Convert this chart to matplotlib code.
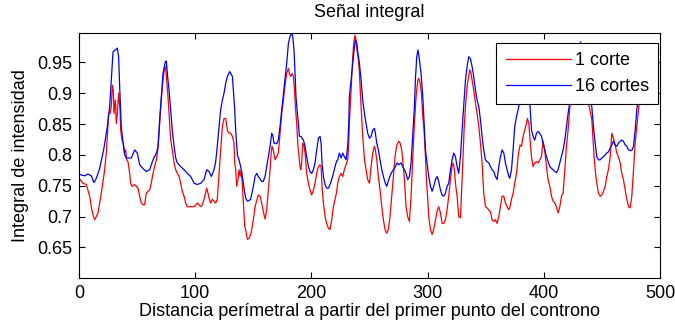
import matplotlib
matplotlib.use("Agg")
import matplotlib.pyplot as plt
from matplotlib.ticker import FuncFormatter

# Señal integral a lo largo del contorno
dist_1_corte = [
    1, 3.4, 6.3, 9.2, 10.6, 12.0, 13.5, 14.9, 16.4, 17.8, 19.2, 20.7, 22.1, 23.5, 24.4,
    25.5, 26.7, 27.8, 28.7, 29.5, 30.1, 31.3, 32.1, 33.0, 34.1, 35.3, 35.9, 37.0, 38.2,
    39.3, 40.2, 41.0, 42.2, 43.6, 44.5, 45.6, 47.9, 49.3, 50.8, 52.2, 53.6, 55.1, 56.5,
    57.9, 59.4, 60.8, 62.2, 63.7, 65.1, 66.6, 68.0, 69.4, 70.8, 72.3, 73.2, 74.6, 75.4,
    76.6, 77.5, 78.9, 80.3, 81.8, 83.2, 84.6, 86.1, 87.5, 88.9, 90.4, 91.8, 93.2, 96.1,
    99.0, 101.8, 103.3, 104.7, 106.1, 107.6, 109.9, 111.0, 111.9, 113.3, 114.7, 116.2,
    117.6, 119.0, 120.5, 121.9, 123.4, 124.8, 126.2, 127.7, 129.1, 130.5, 132.0, 133.4,
    134.0, 134.8, 135.7, 136.8, 137.7, 138.6, 139.7, 140.6, 141.4, 142.6, 143.4, 144.9,
    146.3, 147.7, 148.6, 150.0, 151.5, 152.9, 154.3, 155.8, 157.2, 158.6, 160.1, 161.5,
    162.9, 164.4, 165.2, 166.1, 167.2, 168.7, 170.1, 171.5, 173.0, 174.4, 175.9, 177.3,
    178.7, 180.2, 181.0, 182.2, 183.3, 184.5, 185.3, 186.2, 187.3, 188.2, 189.0, 190.2,
    190.8, 191.6, 192.5, 193.6, 194.5, 195.9, 197.4, 198.8, 200.2, 201.7, 203.1, 204.5,
    206.0, 207.4, 208.3, 209.1, 210.3, 211.7, 213.1, 214.6, 216.0, 217.4, 218.9, 220.3,
    221.7, 222.6, 224.0, 225.5, 226.9, 228.3, 229.8, 231.2, 232.1, 232.6, 234.1, 235.5,
    236.4, 237.5, 238.4, 239.2, 240.4, 241.3, 242.1, 243.3, 244.1, 244.7, 245.6, 247.0,
    248.4, 249.9, 251.3, 252.7, 254.2, 255.0, 256.2, 257.6, 259.0, 260.5, 261.9, 263.3,
    264.8, 266.2, 267.6, 269.1, 270.5, 271.9, 273.4, 275.1, 276.2, 277.7, 278.5, 280.0,
    281.4, 282.8, 284.3, 285.7, 287.1, 288.6, 290.0, 291.5, 292.3, 293.5, 294.6, 295.8,
    296.9, 298.1, 298.9, 300.1, 300.9, 302.4, 303.8, 305.2, 306.7, 308.1, 309.5, 311.0,
    312.4, 313.8, 315.3, 316.7, 318.1, 319.6, 321.0, 321.9, 323.0, 323.9, 325.3, 326.7,
    328.2, 329.0, 330.2, 331.3, 332.5, 333.9, 335.3, 336.2, 337.3, 338.2, 339.6, 341.1,
    342.5, 344.0, 345.4, 346.8, 348.2, 349.7, 351.1, 352.6, 354.0, 355.4, 356.9, 358.3,
    359.7, 361.2, 362.6, 364.0, 365.5, 366.9, 368.3, 369.8, 370.6, 372.1, 373.5, 374.9,
    376.4, 377.8, 378.7, 379.5, 380.7, 382.1, 383.5, 385.0, 385.8, 387.0, 388.1, 389.3,
    390.7, 392.1, 393.6, 395.0, 396.4, 397.9, 399.3, 400.7, 402.2, 403.6, 405.1, 406.5,
    407.9, 409.4, 410.8, 412.2, 413.7, 415.1, 416.5, 418.0, 419.4, 420.8, 422.3, 426.0,
    430.0, 434.0, 438.0, 439.8, 441.2, 442.1, 443.2, 444.1, 445.5, 446.9, 448.4, 449.8,
    451.2, 452.7, 454.1, 455.5, 457.0, 458.4, 459.8, 461.3, 462.7, 464.1, 465.6, 467.0,
    468.4, 469.9, 471.3, 472.8, 474.2, 475.6, 477.1, 478.5, 479.9, 481.4, 482.8, 484.0,
]
senal_1_corte = [
    0.760, 0.754, 0.752, 0.733, 0.716, 0.703, 0.695, 0.700, 0.706, 0.722, 0.738, 0.757,
    0.776, 0.803, 0.830, 0.867, 0.867, 0.878, 0.913, 0.905, 0.867, 0.889, 0.851, 0.867,
    0.900, 0.873, 0.840, 0.824, 0.819, 0.803, 0.808, 0.792, 0.789, 0.770, 0.754, 0.749,
    0.752, 0.749, 0.746, 0.733, 0.722, 0.719, 0.719, 0.738, 0.741, 0.743, 0.754, 0.770,
    0.781, 0.792, 0.811, 0.851, 0.889, 0.921, 0.935, 0.943, 0.922, 0.894, 0.867, 0.824,
    0.808, 0.787, 0.776, 0.770, 0.765, 0.754, 0.741, 0.733, 0.722, 0.716, 0.716, 0.716,
    0.722, 0.719, 0.716, 0.719, 0.728, 0.746, 0.738, 0.730, 0.722, 0.728, 0.725, 0.722,
    0.728, 0.770, 0.808, 0.846, 0.859, 0.859, 0.840, 0.835, 0.835, 0.830, 0.819, 0.787,
    0.776, 0.749, 0.760, 0.776, 0.765, 0.776, 0.749, 0.722, 0.684, 0.679, 0.663, 0.665,
    0.671, 0.679, 0.695, 0.716, 0.726, 0.735, 0.733, 0.722, 0.708, 0.696, 0.711, 0.743,
    0.776, 0.800, 0.814, 0.808, 0.792, 0.797, 0.803, 0.835, 0.867, 0.889, 0.913, 0.932,
    0.940, 0.932, 0.927, 0.932, 0.927, 0.908, 0.878, 0.851, 0.819, 0.803, 0.781, 0.776,
    0.787, 0.819, 0.814, 0.803, 0.770, 0.754, 0.743, 0.735, 0.743, 0.754, 0.770, 0.781,
    0.784, 0.781, 0.749, 0.722, 0.700, 0.689, 0.681, 0.679, 0.695, 0.716, 0.728, 0.740,
    0.754, 0.765, 0.770, 0.765, 0.776, 0.784, 0.792, 0.819, 0.851, 0.905, 0.959, 0.981,
    0.994, 0.986, 0.970, 0.954, 0.932, 0.900, 0.857, 0.830, 0.814, 0.792, 0.776, 0.760,
    0.754, 0.781, 0.803, 0.814, 0.808, 0.792, 0.765, 0.743, 0.716, 0.695, 0.679, 0.673,
    0.679, 0.700, 0.733, 0.765, 0.797, 0.816, 0.822, 0.819, 0.808, 0.792, 0.760, 0.716,
    0.700, 0.692, 0.733, 0.792, 0.851, 0.894, 0.921, 0.924, 0.916, 0.900, 0.862, 0.840,
    0.797, 0.760, 0.727, 0.700, 0.679, 0.671, 0.679, 0.695, 0.709, 0.716, 0.706, 0.689,
    0.689, 0.695, 0.711, 0.733, 0.760, 0.781, 0.787, 0.776, 0.754, 0.733, 0.700, 0.698,
    0.733, 0.787, 0.840, 0.878, 0.911, 0.927, 0.938, 0.932, 0.921, 0.905, 0.884, 0.867,
    0.846, 0.819, 0.787, 0.738, 0.716, 0.714, 0.711, 0.708, 0.695, 0.692, 0.695, 0.689,
    0.700, 0.716, 0.733, 0.733, 0.722, 0.716, 0.711, 0.714, 0.728, 0.738, 0.754, 0.770,
    0.797, 0.808, 0.816, 0.814, 0.830, 0.840, 0.851, 0.859, 0.851, 0.824, 0.797, 0.781,
    0.787, 0.789, 0.787, 0.792, 0.797, 0.822, 0.808, 0.781, 0.760, 0.749, 0.733, 0.725,
    0.722, 0.716, 0.706, 0.716, 0.733, 0.738, 0.776, 0.814, 0.840, 0.878, 0.910, 0.930,
    0.910, 0.886, 0.871, 0.857, 0.830, 0.797, 0.776, 0.754, 0.738, 0.733, 0.735, 0.741,
    0.749, 0.765, 0.776, 0.797, 0.835, 0.827, 0.816, 0.803, 0.797, 0.787, 0.770, 0.760,
    0.743, 0.728, 0.716, 0.714, 0.733, 0.776, 0.819, 0.846, 0.873, 0.894, 0.905,
]

dist_16_cortes = [
    1, 4.9, 7.7, 10.6, 12.9, 14.9, 17.8, 21.5, 24.4, 26.4, 27.8, 29.3, 31.3, 33.0, 34.1,
    35.0, 36.4, 37.9, 39.3, 40.7, 45.0, 47.9, 50.2, 52.2, 55.0, 57.9, 60.8, 63.7, 66.6,
    68.0, 69.4, 70.8, 72.3, 74.3, 75.2, 76.0, 77.5, 78.9, 80.3, 81.8, 83.2, 84.6, 87.5,
    90.4, 93.2, 96.1, 99.0, 101.8, 104.7, 107.6, 109.9, 111.9, 113.9, 116.2, 117.6,
    119.0, 120.5, 121.9, 123.4, 124.8, 126.2, 127.7, 129.7, 132.0, 132.8, 134.0, 134.8,
    136.3, 137.7, 139.1, 140.6, 142.0, 143.4, 144.9, 146.3, 147.7, 150.0, 151.5, 152.9,
    154.3, 157.2, 158.6, 160.1, 161.5, 162.9, 164.4, 165.8, 166.7, 167.8, 170.1, 171.5,
    173.0, 174.4, 175.9, 177.3, 178.7, 180.2, 181.6, 183.0, 183.9, 185.0, 185.9, 186.7,
    187.9, 188.8, 189.6, 190.8, 193.1, 194.5, 195.9, 197.4, 198.8, 200.2, 201.7, 203.1,
    204.5, 206.0, 207.4, 208.3, 209.1, 210.3, 211.7, 213.1, 214.6, 216.0, 217.4, 218.9,
    220.3, 221.7, 222.6, 224.0, 225.5, 226.9, 228.3, 229.8, 231.2, 232.1, 232.6, 234.1,
    235.5, 237.0, 237.8, 239.0, 239.8, 241.3, 242.7, 244.1, 245.6, 247.0, 248.4, 249.9,
    251.3, 252.7, 254.2, 255.0, 256.2, 257.6, 259.0, 260.5, 261.9, 263.6, 264.8, 266.5,
    268.5, 270.5, 272.2, 273.7, 275.1, 277.1, 278.5, 280.0, 281.4, 282.8, 284.3, 285.7,
    287.1, 288.6, 289.4, 290.6, 291.7, 292.9, 294.3, 295.8, 296.9, 298.1, 299.5, 300.9,
    302.4, 303.8, 305.2, 306.7, 308.1, 309.5, 311.0, 312.4, 313.8, 315.3, 316.7, 318.1,
    319.6, 321.0, 322.4, 323.9, 325.3, 326.7, 328.2, 329.6, 331.0, 332.5, 333.9, 335.3,
    336.8, 338.2, 339.6, 341.1, 342.5, 344.0, 345.4, 346.8, 348.2, 349.7, 351.1, 352.6,
    354.0, 355.4, 356.9, 358.3, 359.7, 361.2, 362.6, 364.0, 365.5, 366.9, 368.3, 369.8,
    370.6, 372.1, 373.5, 374.9, 376.4, 377.8, 379.2, 381.5, 383.5, 386.0, 387.8, 389.3,
    390.7, 392.1, 393.6, 395.0, 396.4, 397.9, 399.3, 400.7, 402.2, 403.6, 405.1, 406.5,
    407.9, 409.4, 410.8, 412.2, 413.7, 415.1, 416.5, 418.0, 419.4, 420.8, 422.3, 426.0,
    429.5, 431.5, 433.5, 436.5, 439.0, 441.2, 442.6, 444.1, 445.5, 446.9, 448.4, 449.8,
    451.2, 452.7, 454.1, 455.5, 457.0, 458.4, 459.8, 461.3, 462.7, 464.1, 465.6, 467.0,
    468.4, 469.9, 471.3, 472.8, 474.2, 475.6, 477.1, 478.5, 479.9, 481.4, 482.8, 484.0,
]
senal_16_cortes = [
    0.768, 0.766, 0.769, 0.766, 0.755, 0.762, 0.778, 0.811, 0.846, 0.878, 0.921, 0.967,
    0.970, 0.973, 0.959, 0.911, 0.846, 0.819, 0.800, 0.795, 0.795, 0.808, 0.803, 0.784,
    0.778, 0.773, 0.776, 0.792, 0.803, 0.813, 0.857, 0.894, 0.932, 0.951, 0.952, 0.932,
    0.905, 0.873, 0.840, 0.814, 0.795, 0.787, 0.781, 0.776, 0.770, 0.765, 0.754, 0.752,
    0.754, 0.760, 0.776, 0.773, 0.765, 0.776, 0.789, 0.814, 0.846, 0.873, 0.889, 0.900,
    0.916, 0.927, 0.935, 0.927, 0.905, 0.873, 0.840, 0.800, 0.792, 0.781, 0.765, 0.746,
    0.730, 0.725, 0.726, 0.728, 0.749, 0.765, 0.770, 0.765, 0.757, 0.757, 0.765, 0.781,
    0.797, 0.814, 0.835, 0.832, 0.819, 0.818, 0.824, 0.846, 0.873, 0.900, 0.924, 0.948,
    0.981, 0.992, 0.997, 0.992, 0.970, 0.932, 0.894, 0.867, 0.851, 0.830, 0.830, 0.824,
    0.814, 0.797, 0.781, 0.773, 0.770, 0.776, 0.787, 0.808, 0.827, 0.830, 0.819, 0.787,
    0.765, 0.752, 0.746, 0.746, 0.752, 0.760, 0.770, 0.781, 0.790, 0.792, 0.803, 0.795,
    0.803, 0.797, 0.792, 0.814, 0.851, 0.894, 0.921, 0.948, 0.975, 0.986, 0.981, 0.967,
    0.948, 0.921, 0.889, 0.867, 0.851, 0.835, 0.827, 0.830, 0.840, 0.843, 0.835, 0.819,
    0.808, 0.792, 0.776, 0.765, 0.754, 0.749, 0.760, 0.770, 0.776, 0.781, 0.787, 0.784,
    0.787, 0.781, 0.776, 0.770, 0.760, 0.765, 0.787, 0.830, 0.878, 0.921, 0.959, 0.970,
    0.954, 0.932, 0.894, 0.852, 0.808, 0.787, 0.765, 0.749, 0.741, 0.749, 0.760, 0.765,
    0.757, 0.743, 0.735, 0.733, 0.738, 0.749, 0.754, 0.776, 0.792, 0.803, 0.797, 0.781,
    0.770, 0.797, 0.840, 0.878, 0.921, 0.943, 0.959, 0.956, 0.943, 0.927, 0.905, 0.889,
    0.878, 0.857, 0.830, 0.808, 0.792, 0.789, 0.787, 0.781, 0.776, 0.773, 0.765, 0.760,
    0.781, 0.797, 0.808, 0.803, 0.787, 0.776, 0.765, 0.762, 0.776, 0.808, 0.846, 0.862,
    0.873, 0.886, 0.910, 0.925, 0.905, 0.886, 0.840, 0.830, 0.824, 0.835, 0.838, 0.835,
    0.830, 0.819, 0.808, 0.797, 0.789, 0.781, 0.778, 0.776, 0.773, 0.771, 0.776, 0.787,
    0.797, 0.808, 0.824, 0.846, 0.867, 0.886, 0.935, 0.970, 0.983, 0.960, 0.920, 0.895,
    0.878, 0.846, 0.819, 0.797, 0.792, 0.792, 0.795, 0.797, 0.800, 0.803, 0.805, 0.811,
    0.816, 0.822, 0.816, 0.814, 0.819, 0.822, 0.824, 0.822, 0.816, 0.814, 0.808, 0.807,
    0.807, 0.814, 0.840, 0.873, 0.894, 0.905, 0.910,
]

ticks_x = [0, 100, 200, 300, 400, 500]
ticks_y = [0.65, 0.7, 0.75, 0.8, 0.85, 0.9, 0.95]

plt.rcParams["font.family"] = ["Liberation Sans", "DejaVu Sans"]
plt.rcParams["font.size"] = 13

fig = plt.figure(figsize=(6.75, 3.28), dpi=100)
ax = fig.add_axes([0.117, 0.1515, 0.861, 0.747])

ax.plot(dist_1_corte, senal_1_corte, color="#ff0000", linewidth=0.9, label="1 corte")
ax.plot(dist_16_cortes, senal_16_cortes, color="#0000ff", linewidth=0.9, label="16 cortes")

ax.set_xlim(0, 500)
ax.set_ylim(0.6, 0.997)
ax.set_xticks(ticks_x)
ax.set_yticks(ticks_y)
ax.yaxis.set_major_formatter(FuncFormatter(lambda v, _: f"{v:g}"))
ax.tick_params(direction="in", length=4, width=0.8, top=True, right=True,
               labelsize=13, pad=5)
for lado in ax.spines.values():
    lado.set_linewidth(0.8)

ax.set_title("Señal integral", fontsize=13, pad=12)
ax.set_xlabel("Distancia perímetral a partir del primer punto del controno", fontsize=13)
ax.set_ylabel("Integral de intensidad", fontsize=13)
ax.xaxis.set_label_coords(0.5, -0.10)
ax.yaxis.set_label_coords(-0.086, 0.5)

ley = ax.legend(loc="upper right", bbox_to_anchor=(0.9966, 0.9604), borderaxespad=0,
                fancybox=False, framealpha=1, edgecolor="black", handlelength=3.6,
                handletextpad=0.25, labelspacing=0.5, borderpad=0.5, fontsize=13)
ley.get_frame().set_linewidth(0.8)

fig.savefig("out.png", dpi=100)
plt.close(fig)
